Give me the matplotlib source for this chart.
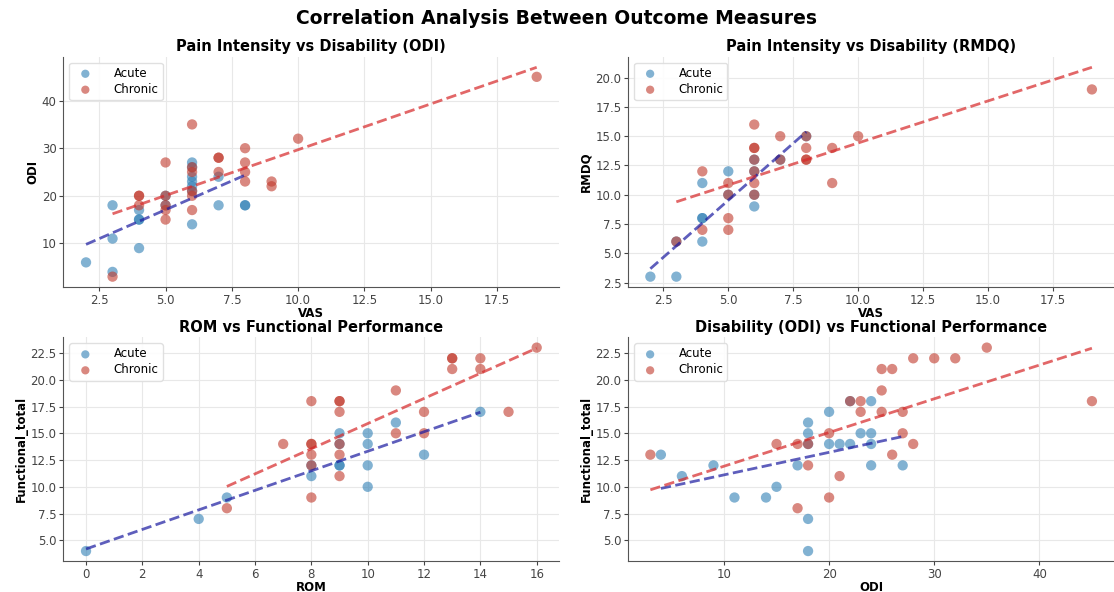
import numpy as np
import matplotlib
matplotlib.use("Agg")
import matplotlib.pyplot as plt

# ---- Panel 1: VAS vs ODI ----
p1_acute_x = [2, 3, 3, 3, 4, 4, 4, 4, 5, 5, 6, 6, 6, 6, 6, 6, 6, 7, 7, 8, 8]
p1_acute_y = [6, 18, 11, 4, 17, 15, 9, 15, 20, 18, 27, 26, 24, 23, 22, 21, 14, 24, 18, 18, 18]
p1_chronic_x = [3, 4, 4, 4, 5, 5, 5, 5, 5, 6, 6, 6, 6, 6, 6, 7, 7, 7, 8, 8, 8, 8, 9, 9, 10, 19]
p1_chronic_y = [3, 20, 18, 20, 27, 20, 18, 17, 15, 35, 26, 25, 21, 20, 17, 28, 28, 25, 30, 27, 25, 23, 23, 22, 32, 45]

# ---- Panel 2: VAS vs RMDQ ----
p2_acute_x = [2, 3, 3, 4, 4, 4, 4, 5, 5, 6, 6, 6, 6, 7, 8]
p2_acute_y = [3, 3, 6, 11, 8, 8, 6, 12, 10, 13, 12, 9, 10, 13, 15]
p2_chronic_x = [3, 4, 4, 5, 5, 5, 5, 6, 6, 6, 6, 6, 6, 6, 7, 7, 8, 8, 8, 8, 9, 9, 10, 19]
p2_chronic_y = [6, 12, 7, 11, 10, 8, 7, 16, 14, 14, 13, 12, 11, 10, 15, 13, 15, 14, 13, 13, 14, 11, 15, 19]

# ---- Panel 3: ROM vs Functional_total ----
p3_acute_x = [0, 4, 5, 8, 8, 9, 9, 9, 9, 10, 10, 10, 10, 11, 12, 14]
p3_acute_y = [4, 7, 9, 12, 11, 15, 14, 12, 12, 15, 14, 12, 10, 16, 13, 17]
p3_chronic_x = [5, 7, 8, 8, 8, 8, 8, 8, 9, 9, 9, 9, 9, 9, 11, 11, 12, 12, 13, 13, 13, 14, 14, 15, 16]
p3_chronic_y = [8, 14, 18, 14, 14, 13, 12, 9, 18, 18, 17, 14, 13, 11, 19, 15, 17, 15, 22, 22, 21, 22, 21, 17, 23]

# ---- Panel 4: ODI vs Functional_total ----
p4_acute_x = [4, 6, 9, 11, 14, 15, 17, 18, 18, 18, 18, 18, 20, 20, 21, 22, 22, 23, 24, 24, 24, 24, 27]
p4_acute_y = [13, 11, 12, 9, 9, 10, 12, 16, 15, 14, 7, 4, 17, 14, 14, 14, 18, 15, 18, 15, 14, 12, 12]
p4_chronic_x = [3, 15, 17, 17, 18, 18, 20, 20, 21, 22, 23, 23, 25, 25, 25, 26, 26, 27, 27, 28, 28, 30, 32, 35, 45]
p4_chronic_y = [13, 14, 14, 8, 14, 12, 15, 9, 11, 18, 18, 17, 21, 19, 17, 21, 13, 17, 15, 22, 14, 22, 22, 23, 18]

panels = [
    ("Pain Intensity vs Disability (ODI)", "VAS", "ODI",
     p1_acute_x, p1_acute_y, p1_chronic_x, p1_chronic_y),
    ("Pain Intensity vs Disability (RMDQ)", "VAS", "RMDQ",
     p2_acute_x, p2_acute_y, p2_chronic_x, p2_chronic_y),
    ("ROM vs Functional Performance", "ROM", "Functional_total",
     p3_acute_x, p3_acute_y, p3_chronic_x, p3_chronic_y),
    ("Disability (ODI) vs Functional Performance", "ODI", "Functional_total",
     p4_acute_x, p4_acute_y, p4_chronic_x, p4_chronic_y),
]

acute_c = "#2f7fb5"
chronic_c = "#c0392b"
acute_line = "#1a1aa0"
chronic_line = "#d62728"

fig = plt.figure(figsize=(11.14, 5.92), dpi=100)
positions = [
    [0.057, 0.515, 0.445, 0.389],
    [0.564, 0.515, 0.436, 0.389],
    [0.057, 0.052, 0.445, 0.378],
    [0.564, 0.052, 0.436, 0.378],
]

for pos, (title, xl, yl, ax_, ay_, cx_, cy_) in zip(positions, panels):
    ax = fig.add_axes(pos)
    ax.scatter(ax_, ay_, s=55, color=acute_c, alpha=0.6, label="Acute", edgecolors="none")
    ax.scatter(cx_, cy_, s=55, color=chronic_c, alpha=0.6, label="Chronic", edgecolors="none")
    for xs, ys, col in ((ax_, ay_, acute_line), (cx_, cy_, chronic_line)):
        xs = np.asarray(xs, float)
        ys = np.asarray(ys, float)
        m, b = np.polyfit(xs, ys, 1)
        xx = np.array([xs.min(), xs.max()])
        ax.plot(xx, m * xx + b, "--", color=col, alpha=0.7, linewidth=2)
    ax.set_title(title, fontsize=10.5, fontweight="bold", pad=4)
    ax.set_xlabel(xl, fontsize=8.5, fontweight="bold", labelpad=0)
    ax.set_ylabel(yl, fontsize=8.5, fontweight="bold", labelpad=2)
    ax.grid(True, color="#e8e8e8", linewidth=0.8)
    ax.set_axisbelow(True)
    for s in ("top", "right"):
        ax.spines[s].set_visible(False)
    for s in ("left", "bottom"):
        ax.spines[s].set_color("#555555")
    ax.tick_params(labelsize=8.5, colors="#444444", length=3, pad=2)
    ax.legend(loc="upper left", fontsize=8.5, frameon=True, framealpha=0.9,
              edgecolor="#dddddd", borderpad=0.35, handletextpad=1.4,
              labelspacing=0.25, markerscale=0.8)

fig.suptitle("Correlation Analysis Between Outcome Measures", fontsize=13.5,
             fontweight="bold", y=0.985)

fig.savefig("out.png", dpi=100)
